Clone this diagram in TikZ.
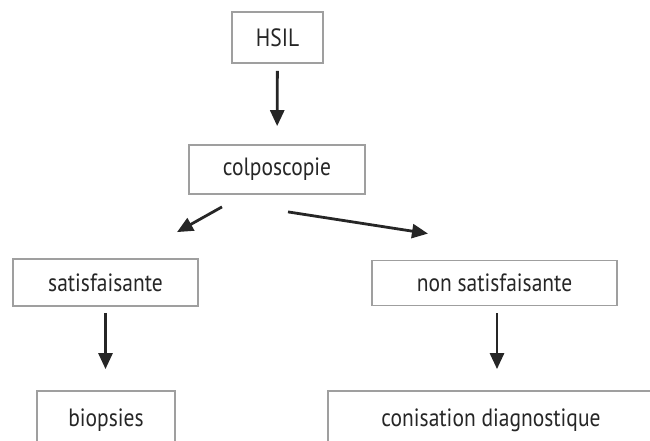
\documentclass[tikz,border=0pt]{standalone}
\usepackage{fontspec}
\setmainfont{PT Sans}[FakeStretch=0.86]
\usetikzlibrary{arrows.meta}
\usetikzlibrary{calc}

\begin{document}
\begin{tikzpicture}[x=1pt,y=-1pt,
    box/.style={draw=gray!75,line width=1.8pt,inner sep=0pt,text=black!85,font=\fontsize{25}{29}\selectfont},
    arr/.style={line width=2.8pt,black!85,-{Triangle[width=14pt,length=16pt]}}]
            \useasboundingbox (0,0) rectangle (650,441);
            \clip (0,0) rectangle (650,441);

            \node[box,minimum width=91pt,minimum height=51pt] (hsil) at (277.5,37.5) {HSIL};
            \node[box,minimum width=176pt,minimum height=49pt] (colpo) at (277,169.5) {colposcopie};

            \node[box,minimum width=185pt,minimum height=47pt] (sat) at (105.5,282.5) {satisfaisante};
            \node[box,minimum width=245pt,minimum height=45pt] (nonsat) at (494.5,283) {non satisfaisante};

            \node[box,minimum width=138pt,minimum height=58pt] (biop) at (106,420) {biopsies};
            \node[box,minimum width=326pt,minimum height=58pt] (conis) at (491,420) {conisation diagnostique};

            \draw[arr,shorten <=7pt,shorten >=18pt] (hsil) -- (colpo);
            \draw[arr] ($(colpo.south)+(-55,12)$) -- ($(sat.north)+(71.5,-26)$);
            \draw[arr] ($(colpo.south)+(11,17)$) -- ($(nonsat.north)+(-66.5,-26)$);

            \draw[arr,shorten <=6pt,shorten >=21pt] (sat) -- (sat |- biop.north);
            \draw[arr,shorten <=7pt,shorten >=21pt] (nonsat.south -| 497,0) -- (conis.north -| 497,0);
\end{tikzpicture}
\end{document}
